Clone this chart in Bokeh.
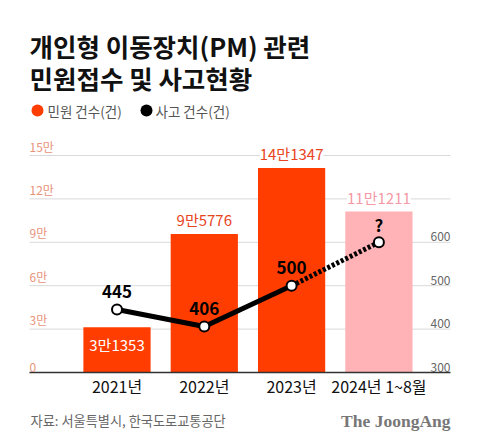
from bokeh.plotting import figure
from bokeh.models import Range1d, Label
from bokeh.embed import file_html
from bokeh.resources import INLINE
from bokeh.core.properties import value

# ---- data ----
years = ["2021년", "2022년", "2023년", "2024년 1~8월"]
complaints = [31353, 95776, 141347, 111211]
complaint_labels = ["3만1353", "9만5776", "14만1347", "11만1211"]
accidents = [445, 406, 500, 600]
accident_labels = ["445", "406", "500", "?"]
left_ticks = [0, 30000, 60000, 90000, 120000, 150000]
left_tick_labels = ["0", "3만", "6만", "9만", "12만", "15만"]
right_ticks = [300, 400, 500, 600]
right_tick_labels = ["300", "400", "500", "600"]

# ---- layout helpers (image pixel -> data) ----
X0_IMG, DX = 116.5, 87.3
Y0_IMG, PX_PER = 372.0, 217.0 / 150000.0
def dx(px): return (px - X0_IMG) / DX
def dy(py): return (Y0_IMG - py) / PX_PER
def l2r(v): return 300 + v / 300.0   # 0 -> 300, 3만 -> 400

FONT_NAME = "Noto Sans CJK KR"
FONT = value(FONT_NAME)
ORANGE = "#FF3D00"
PINK = "#FFB3B6"

W, H = 464, 431
p = figure(width=W, height=H, output_backend="svg", toolbar_location=None,
           x_range=Range1d(dx(0), dx(W)), y_range=Range1d(dy(H), dy(0)),
           x_axis_type=None, y_axis_type=None, min_border=0)
p.outline_line_color = None
p.background_fill_color = "white"
p.border_fill_color = "white"
p.extra_y_ranges = {"acc": Range1d(l2r(dy(H)), l2r(dy(0)))}

GX0, GX1 = dx(29), dx(450)
idx = list(range(len(years)))

# gridlines
p.segment(x0=[GX0] * (len(left_ticks) - 1), x1=[GX1] * (len(left_ticks) - 1),
          y0=left_ticks[1:], y1=left_ticks[1:], line_color="#D9D9D9", line_width=1)

# bars
bar_colors = [ORANGE, ORANGE, ORANGE, PINK]
p.vbar(x=idx, top=complaints, width=0.77, bottom=0, fill_color=bar_colors, line_color=None)

# baseline
p.segment(x0=[GX0], x1=[GX1], y0=[0], y1=[0], line_color="#333333", line_width=1.5)

# left tick labels
p.text(x=[GX0] * len(left_ticks), y=left_ticks, text=left_tick_labels,
       text_font=FONT, text_font_size="12px", text_color="#E8937A",
       text_align="left", text_baseline="bottom", y_offset=-1)
# right tick labels
p.text(x=[GX1] * len(right_ticks), y=right_ticks, text=right_tick_labels,
       text_font=FONT, text_font_size="12px", text_color="#666666",
       text_align="right", text_baseline="bottom", y_offset=-1, y_range_name="acc")

# bar value labels (above bars, with white backing over gridlines)
p.text(x=idx[1:], y=complaints[1:], text=complaint_labels[1:],
       text_color=["#E8441E", "#E8441E", "#F39AA6"],
       text_font=FONT, text_font_size="15px", text_align="center",
       text_baseline="bottom", y_offset=-4, background_fill_color="white")
p.text(x=idx[:1], y=complaints[:1], text=complaint_labels[:1], text_font=FONT,
       text_font_size="15px", text_color="white", text_align="center",
       text_baseline="middle", y_offset=17)

# accident line
p.line(x=idx[:3], y=accidents[:3], line_color="black", line_width=5, y_range_name="acc")
p.line(x=idx[2:], y=accidents[2:], line_color="black", line_width=5,
       line_dash="3 2", y_range_name="acc")
p.scatter(x=idx, y=accidents, size=10, fill_color="white", line_color="black",
          line_width=2, y_range_name="acc")
p.text(x=idx, y=accidents, text=accident_labels, text_font=FONT, text_font_size="17px",
       text_font_style="bold", text_color="black", text_align="center",
       text_baseline="middle", y_offset=-18, y_range_name="acc")

# category labels
p.text(x=idx, y=[0] * len(idx), text=years, text_font=FONT, text_font_size="16px",
       text_color="#111111", text_align="center", text_baseline="middle", y_offset=13)

# title
for txt, py in [("개인형 이동장치(PM) 관련", 45), ("민원접수 및 사고현황", 77)]:
    p.add_layout(Label(x=dx(29), y=dy(py), text=txt, text_font=FONT_NAME, text_font_size="25.5px",
                       text_font_style="bold", text_color="#111111",
                       text_baseline="middle", text_align="left"))

# legend
p.scatter(x=[dx(37), dx(146)], y=[dy(110), dy(110)], size=12,
          fill_color=[ORANGE, "black"], line_color=None)
for txt, px in [("민원 건수(건)", 47), ("사고 건수(건)", 155)]:
    p.add_layout(Label(x=dx(px), y=dy(110), text=txt, text_font=FONT_NAME, text_font_size="13.5px",
                       text_color="#555555", text_baseline="middle", text_align="left"))

# footer
p.add_layout(Label(x=dx(30), y=dy(420), text="자료: 서울특별시, 한국도로교통공단", text_font=FONT_NAME,
                   text_font_size="13.2px", text_color="#666666", text_baseline="middle"))
p.add_layout(Label(x=dx(450), y=dy(420), text="The JoongAng", text_font="Liberation Serif",
                   text_font_size="17.5px", text_font_style="bold", text_color="#777777",
                   text_baseline="middle", text_align="right"))

open("out.html", "w").write(file_html(p, INLINE))
